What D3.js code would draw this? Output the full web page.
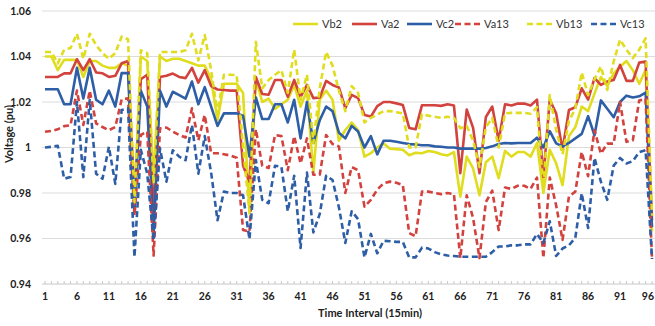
<!DOCTYPE html>
<html>
<head>
<meta charset="utf-8">
<script src="https://cdn.jsdelivr.net/npm/d3@7"></script>
<style>
  body { margin: 0; background: #fff; }
  svg text { font-family: Lato, "Open Sans", sans-serif; fill: #222; }
</style>
</head>
<body>
<div class="voltage-chart"></div>
<script>
const seriesNames = ['Vb2', 'Va2', 'Vc2', 'Va13', 'Vb13', 'Vc13']
const xTickLabels = [1, 6, 11, 16, 21, 26, 31, 36, 41, 46, 51, 56, 61, 66, 71, 76, 81, 86, 91, 96]
const yTicks = [0.94, 0.96, 0.98, 1, 1.02, 1.04, 1.06]

const vb2 = [1.040,1.040,1.034,1.0385,1.0385,1.0385,1.031,1.038,1.038,1.036,1.035,1.035,1.037,1.036,0.975,1.040,1.038,0.985,1.040,1.038,
  1.039,1.039,1.038,1.037,1.036,1.036,1.030,1.012,1.028,1.028,1.028,1.024,0.971,1.030,1.020,1.0215,1.017,1.019,1.021,1.0275,
  1.018,1.025,0.989,1.021,1.025,1.021,1.003,1.0077,1.011,1.0077,0.996,0.9975,1.000,1.0018,0.9995,0.9993,0.999,0.9966,0.9977,0.9975,
  0.9985,0.998,0.997,0.9965,0.998,0.9784,0.996,0.9908,0.979,0.9935,0.996,0.9865,0.9985,0.996,0.998,0.998,0.996,1.002,0.980,0.999,
  0.993,0.9835,1.005,1.009,1.018,1.016,1.0237,1.031,1.027,1.0325,1.0355,1.038,1.034,1.028,1.034,0.963]

const va2 = [1.031,1.031,1.031,1.0326,1.0326,1.0388,1.034,1.0388,1.033,1.0326,1.031,1.0315,1.037,1.038,0.976,1.030,1.032,0.970,1.031,1.0315,
  1.0325,1.031,1.0305,1.035,1.0285,1.034,1.027,1.0255,1.0253,1.025,1.025,0.992,0.985,1.031,1.0235,1.0232,1.0297,1.0297,1.0223,1.0297,
  1.0223,1.0275,1.0217,1.022,1.0293,1.0275,1.0264,1.0173,1.0231,1.0217,1.0143,1.0136,1.0182,1.020,1.020,1.0194,1.0187,1.0086,1.008,1.0186,
  1.0186,1.0186,1.0183,1.019,1.0185,0.9887,1.0167,1.0086,0.9887,1.0134,1.018,1.003,1.019,1.0185,1.0193,1.0193,1.0185,1.021,0.987,1.021,
  1.015,0.999,1.0165,1.0177,1.026,1.021,1.0305,1.0275,1.029,1.0297,1.0363,1.0293,1.0293,1.0373,1.0378,0.968]

const vc2 = [1.0256,1.0256,1.0256,1.019,1.019,1.035,1.0216,1.035,1.021,1.019,1.025,1.018,1.0327,1.0327,0.972,1.025,1.018,0.962,1.025,1.018,
  1.0245,1.023,1.0215,1.029,1.019,1.0265,1.018,1.0095,1.015,1.015,1.015,1.014,0.996,1.022,1.0125,1.0125,1.019,1.019,1.011,1.021,
  1.004,1.020,1.002,1.012,1.018,1.016,1.0065,1.004,1.0095,1.007,1.000,1.005,0.997,1.003,1.003,1.0025,1.002,1.0015,1.0013,1.001,
  1.001,1.0005,1.0003,1.000,1.000,0.9995,0.9995,0.9995,0.9995,0.9998,1.0005,1.0015,1.002,1.0018,1.002,1.002,1.002,1.0043,1.000,1.0072,
  1.0018,1.0005,1.002,1.004,1.006,1.0138,1.0054,1.0207,1.017,1.0133,1.020,1.0228,1.022,1.0225,1.0241,0.965]

const va13 = [1.0069,1.0073,1.008,1.0094,1.0098,1.025,1.0099,1.025,1.0106,1.009,1.0076,1.009,1.0212,1.0216,0.970,1.0055,1.007,0.9525,1.0084,1.0088,
  1.007,1.0055,1.0044,1.0172,1.0032,1.0143,0.9975,0.9975,0.997,0.9965,0.9955,0.9637,0.963,1.008,0.992,0.991,1.0055,1.005,0.990,1.005,
  0.993,1.004,0.988,0.988,1.0055,1.0015,1.0005,0.980,0.9914,0.990,0.974,0.977,0.9815,0.9843,0.985,0.9845,0.9835,0.9624,0.961,0.9806,
  0.9806,0.980,0.9795,0.980,0.9795,0.9514,0.979,0.969,0.9514,0.976,0.981,0.9637,0.9824,0.9818,0.9832,0.9832,0.9818,0.9868,0.9514,0.9868,
  0.9745,0.9594,0.9785,0.9806,0.998,0.9874,1.0076,0.9973,1.0017,1.0017,1.020,1.0025,1.0032,1.0207,1.0214,0.951]

const vb13 = [1.042,1.042,1.037,1.043,1.0437,1.050,1.039,1.050,1.045,1.0415,1.039,1.0415,1.0488,1.0476,0.976,1.0427,1.0415,0.984,1.042,1.042,
  1.042,1.042,1.0427,1.050,1.0383,1.0494,1.034,1.015,1.032,1.032,1.0318,1.000,0.972,1.0465,1.026,1.0297,1.032,1.034,1.024,1.043,
  1.021,1.032,1.002,1.026,1.042,1.036,1.025,1.016,1.027,1.024,1.011,1.013,1.0145,1.016,1.016,1.0155,1.015,1.000,1.000,1.0147,
  1.014,1.0135,1.013,1.0135,1.013,1.0085,1.0095,1.003,0.9914,1.009,1.013,1.000,1.015,1.0152,1.0152,1.0152,1.0148,1.0177,0.9827,1.023,
  1.0077,0.997,1.0117,1.017,1.033,1.023,1.030,1.0356,1.0253,1.0378,1.0474,1.043,1.0393,1.043,1.048,0.970]

const vc13 = [1.000,1.0003,1.0007,0.9863,0.987,1.020,0.987,1.0209,0.9885,0.9863,1.0003,0.984,1.0165,1.0172,0.9518,0.999,0.9885,0.9591,0.9996,0.985,
  0.9988,0.996,0.9944,1.0099,0.9885,1.005,0.989,0.968,0.9806,0.980,0.980,0.979,0.9597,0.9945,0.977,0.9755,0.992,0.9915,0.972,0.9876,
  0.9558,0.989,0.9627,0.9708,0.9876,0.9857,0.9737,0.958,0.972,0.9685,0.9517,0.962,0.9535,0.959,0.9588,0.9585,0.9585,0.9517,0.9517,0.956,
  0.9556,0.954,0.953,0.9525,0.9523,0.952,0.952,0.952,0.952,0.952,0.954,0.9565,0.9565,0.957,0.957,0.9574,0.9574,0.962,0.958,0.9676,
  0.9523,0.9556,0.957,0.9603,0.9799,0.9646,0.9954,0.985,0.977,0.992,0.9954,0.993,0.994,0.998,0.9988,0.951]

const yellow = '#e0dc1e', red = '#d2423e', blue = '#2e5ea6'
const series = [
  { name: 'Vb2', values: vb2, color: yellow, dash: null },
  { name: 'Va2', values: va2, color: red, dash: null },
  { name: 'Vc2', values: vc2, color: blue, dash: null },
  { name: 'Va13', values: va13, color: red, dash: '6,3.5' },
  { name: 'Vb13', values: vb13, color: yellow, dash: '6,3.5' },
  { name: 'Vc13', values: vc13, color: blue, dash: '6,3.5' }
]

const width = 655, height = 326
const svg = d3.select('.voltage-chart').append('svg')
  .attr('width', width).attr('height', height)

const x = d3.scaleLinear().domain([1, 96]).range([45, 652])
const y = d3.scaleLinear().domain([0.94, 1.06]).range([284, 11])

// gridlines
svg.append('g')
  .selectAll('line')
  .data(yTicks.slice(1))
  .join('line')
  .attr('x1', 42).attr('x2', 655)
  .attr('y1', d => y(d)).attr('y2', d => y(d))
  .attr('stroke', '#dcdcdc').attr('stroke-width', 1)

// y axis labels
const yAxis = svg.append('g')
  .attr('transform', 'translate(34,0)')
  .call(d3.axisLeft(y).tickValues(yTicks).tickFormat(d => String(+d.toFixed(2))).tickSize(0))
yAxis.select('.domain').remove()
yAxis.selectAll('text').attr('font-size', 10.5).style('font-weight', 'bold')

// x axis with minor ticks at each interval
const xAxis = svg.append('g')
  .attr('transform', `translate(0,${y(0.94)})`)
xAxis.append('line')
  .attr('x1', 42).attr('x2', 655).attr('stroke', '#c8c8c8')
xAxis.selectAll('.minor')
  .data(d3.range(1, 97))
  .join('line')
  .attr('class', 'minor')
  .attr('x1', d => x(d)).attr('x2', d => x(d))
  .attr('y1', -3).attr('y2', 0)
  .attr('stroke', '#c8c8c8')
// last label sits on the right edge, so anchor it at its end to keep it whole
xAxis.selectAll('.lbl')
  .data(xTickLabels)
  .join('text')
  .attr('class', 'lbl')
  .attr('x', (d, i) => i === xTickLabels.length - 1 ? 654 : x(d)).attr('y', 16)
  .attr('text-anchor', (d, i) => i === xTickLabels.length - 1 ? 'end' : 'middle')
  .attr('font-size', 10.5)
  .style('font-weight', 'bold')
  .text(d => d)

// axis titles
svg.append('text')
  .attr('x', 370).attr('y', 317)
  .attr('text-anchor', 'middle').attr('font-size', 11)
  .style('font-weight', 'bold')
  .text('Time Interval (15min)')
svg.append('text')
  .attr('transform', 'translate(13,134) rotate(-90)')
  .attr('text-anchor', 'middle').attr('font-size', 11)
  .style('font-weight', 'bold')
  .text('Voltage (pu)')

// lines
const line = d3.line()
  .x((d, i) => x(i + 1))
  .y(d => y(d))

svg.append('g')
  .selectAll('path')
  .data(series)
  .join('path')
  .attr('d', d => line(d.values))
  .attr('fill', 'none')
  .attr('stroke', d => d.color)
  .attr('stroke-width', 2.6)
  .attr('stroke-dasharray', d => d.dash)
  .attr('stroke-linejoin', 'round')

// legend
const legendX = [293, 352, 407, 455, 527, 591]
const legend = svg.append('g')
  .selectAll('g')
  .data(series)
  .join('g')
  .attr('transform', (d, i) => `translate(${legendX[i]},24)`)
legend.append('line')
  .attr('x1', 0).attr('x2', 25)
  .attr('stroke', d => d.color).attr('stroke-width', 2.6)
  .attr('stroke-dasharray', d => d.dash)
legend.append('text')
  .attr('x', 29).attr('y', 4)
  .attr('font-size', 11)
  .style('fill', '#333')
  .text(d => d.name)
</script>
</body>
</html>
